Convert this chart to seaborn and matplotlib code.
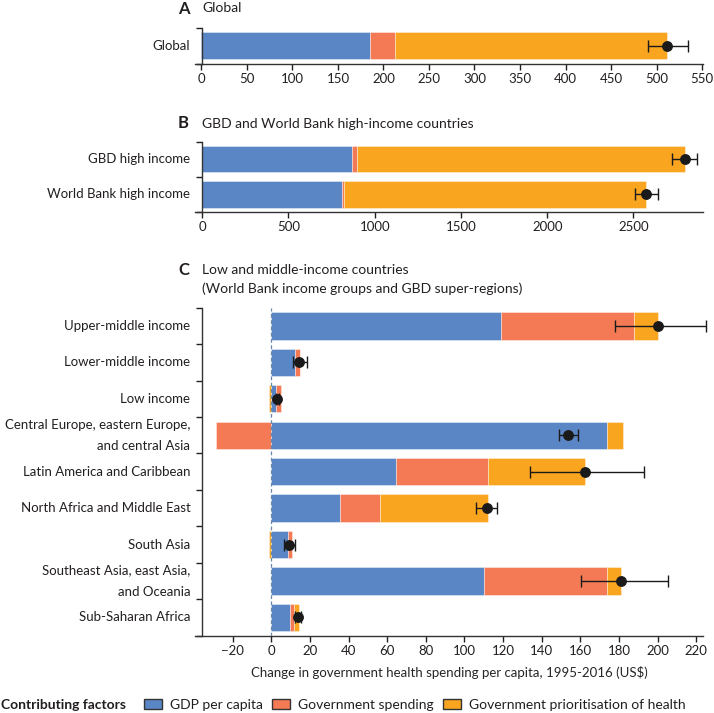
import numpy as np
import pandas as pd
import seaborn as sns
import matplotlib.pyplot as plt
from matplotlib.patches import Patch

# colours
c_gdp = '#5b86c5'
c_gov = '#f47a55'
c_prio = '#f9a51f'
txt = '#231f20'

# Panel A - global
a_labels = ['Global']
a_gdp = [185]
a_gov = [28]
a_prio = [299]
a_total = [511]
a_lo = [491]
a_hi = [534]

# Panel B - high income
b_labels = ['GBD high income', 'World Bank high income']
b_gdp = [866, 811]
b_gov = [34, 10]
b_prio = [1901, 1754]
b_total = [2798, 2573]
b_lo = [2726, 2506]
b_hi = [2868, 2642]

# Panel C - low and middle income
c_labels = ['Upper-middle income', 'Lower-middle income', 'Low income',
            'Central Europe, eastern Europe,\nand central Asia',
            'Latin America and Caribbean', 'North Africa and Middle East',
            'South Asia', 'Southeast Asia, east Asia,\nand Oceania',
            'Sub-Saharan Africa']
c_gdp_v = [119, 12.5, 2.6, 174, 64.7, 35.6, 8.9, 110, 9.6]
c_gov_v = [69, 2.2, 2.2, -28.5, 47.7, 20.7, 1.8, 64, 2.2]
c_prio_v = [12, 0, -1.4, 8.3, 50, 55.9, -1.4, 7, 2.3]
c_total = [200, 14.4, 3.2, 153.8, 162.2, 111.8, 9.2, 181, 14]
c_lo = [178, 11.3, 2.5, 149, 133.8, 106, 6.7, 160.3, 12.3]
c_hi = [225, 18.5, 4.0, 158.6, 192.8, 117, 12.5, 205.6, 15.4]

sns.set_theme(style='ticks')
plt.rcParams['font.family'] = ['Lato', 'DejaVu Sans']
plt.rcParams['text.color'] = txt
plt.rcParams['xtick.color'] = txt
plt.rcParams['ytick.color'] = txt
plt.rcParams['axes.edgecolor'] = '#333333'

W, H = 714, 713
AX_W = 703 - 195
fig = plt.figure(figsize=(W / 100, H / 100), dpi=100)


def add_ax(top, bottom):
    return fig.add_axes([195 / W, 1 - bottom / H, AX_W / W, (bottom - top) / H])


def draw_panel(ax, labels, gdp, gov, prio, total, lo, hi, xlim, xticks, zero_line=False):
    n = len(labels)
    pos = np.zeros(n)
    neg = np.zeros(n)
    for vals, col in [(gdp, c_gdp), (gov, c_gov), (prio, c_prio)]:
        vals = np.asarray(vals, dtype=float)
        left = np.where(vals >= 0, pos, neg)
        df = pd.DataFrame({'label': labels, 'value': vals})
        sns.barplot(data=df, x='value', y='label', order=labels, left=left,
                    color=col, width=0.75, errorbar=None, saturation=1,
                    edgecolor=(1, 1, 1, 0.45), linewidth=0.6, ax=ax, orient='h')
        pos = pos + np.clip(vals, 0, None)
        neg = neg + np.clip(vals, None, 0)
    total = np.asarray(total, dtype=float)
    ax.errorbar(total, np.arange(n),
                xerr=[total - np.asarray(lo), np.asarray(hi) - total],
                fmt='o', color='#1a1a1a', ms=6.8, capsize=4.5, elinewidth=1,
                capthick=1, zorder=5, clip_on=False)
    if zero_line:
        ax.axvline(0, ls=(0, (3, 2)), color='#6b88a8', lw=0.9, zorder=4)
    ax.set_xlim(*xlim)
    ax.set_xticks(xticks)
    ax.set_ylim(n - 0.5, -0.5)
    # category names as text so the two-line ones get wider line spacing
    ax.set_yticks(np.arange(n), [''] * n)
    ax.set_yticks(np.arange(n + 1) - 0.5, minor=True)
    ax.tick_params(axis='y', which='major', length=0)
    ax.tick_params(axis='y', which='minor', length=4.5, width=1)
    ax.tick_params(axis='x', length=4.5, width=1, labelsize=9.5, pad=2)
    for i, lab in enumerate(labels):
        ax.text(-4.5 / AX_W, i, lab, transform=ax.get_yaxis_transform(),
                ha='right', va='center', fontsize=9.5, linespacing=1.9)
    ax.set_xlabel('')
    ax.set_ylabel('')
    sns.despine(ax=ax)
    ax.spines['left'].set_position(('axes', 7 / AX_W))
    for s in ['left', 'bottom']:
        ax.spines[s].set_linewidth(1)


axA = add_ax(27.7, 64)
axB = add_ax(141.5, 212)
axC = add_ax(307.7, 635.7)

draw_panel(axA, a_labels, a_gdp, a_gov, a_prio, a_total, a_lo, a_hi,
           (-7, 551), np.arange(0, 551, 50))
draw_panel(axB, b_labels, b_gdp, b_gov, b_prio, b_total, b_lo, b_hi,
           (-42, 2903), np.arange(0, 2501, 500))
draw_panel(axC, c_labels, c_gdp_v, c_gov_v, c_prio_v, c_total, c_lo, c_hi,
           (-39.5, 223.5), np.arange(-20, 221, 20), zero_line=True)
axC.set_xlabel('Change in government health spending per capita, 1995-2016 (US\\$)',
               fontsize=9.5, labelpad=7)

# panel titles
for letter, title, y in [('A', 'Global', 8.5), ('B', 'GBD and World Bank high-income countries', 123.5),
                         ('C', 'Low and middle-income countries\n(World Bank income groups and GBD super-regions)', 279.5)]:
    fig.text(178 / W, 1 - (y if letter != 'C' else 270) / H, letter, fontsize=12,
             fontweight='bold', va='center', ha='left')
    fig.text(202 / W, 1 - y / H, title, fontsize=10, va='center', ha='left', linespacing=1.6)

# legend
fig.text(1 / W, 1 - 705 / H, 'Contributing factors', fontsize=10, fontweight='bold',
         va='center', ha='left')
handles = [Patch(facecolor=c, edgecolor='#333333', linewidth=1) for c in [c_gdp, c_gov, c_prio]]
fig.legend(handles, ['GDP per capita', 'Government spending', 'Government prioritisation of health'],
           loc='center left', bbox_to_anchor=(144 / W, 1 - 705 / H), ncol=3, frameon=False,
           fontsize=10, handlelength=1.3, handleheight=0.7, handletextpad=0.55,
           columnspacing=0.7, borderaxespad=0, borderpad=0)

fig.savefig('out.png', dpi=100)
